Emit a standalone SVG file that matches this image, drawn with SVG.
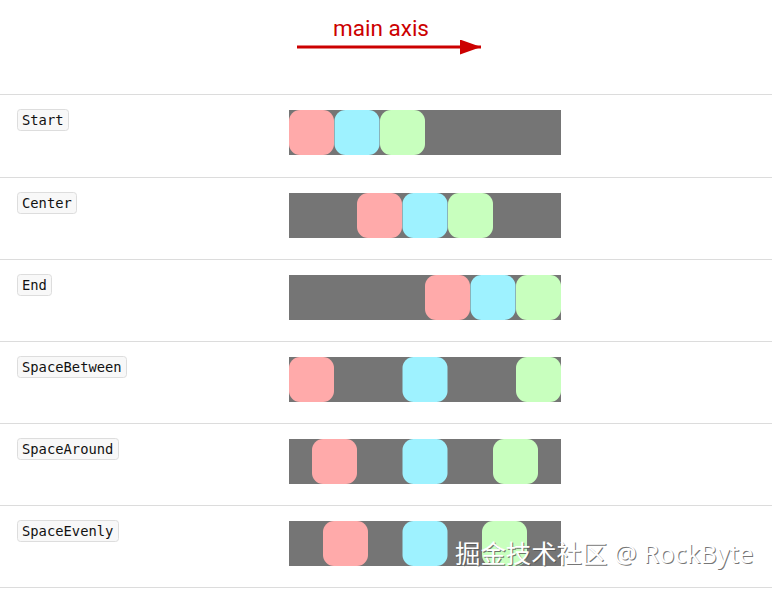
<svg xmlns="http://www.w3.org/2000/svg" width="772" height="589" viewBox="0 0 772 589">
<defs>
<style>
.sep{stroke:#dcdcdc;stroke-width:1}
.bar{fill:#757575}
.a{fill:#ffaaaa}
.b{fill:#9ef2ff}
.c{fill:#c8ffbe}
.lb{fill:#f8f8f8;stroke:#dddddd;stroke-width:1}
.lt{font-family:"DejaVu Sans Mono","Liberation Mono",monospace;font-size:13.8px;fill:#111}
.wm{font-family:"Noto Sans","Noto Sans CJK SC",sans-serif;font-size:25.4px;fill:#ffffff}
.wms{font-family:"Noto Sans","Noto Sans CJK SC",sans-serif;font-size:25.4px;fill:#555555;opacity:0.8}
</style>
<marker id="ah" markerWidth="21" markerHeight="15" refX="21" refY="7.5" orient="auto" markerUnits="userSpaceOnUse">
<path d="M0,0 L21,7.5 L0,15 z" fill="#cc0000"/>
</marker>
<rect id="sq" width="45" height="45" rx="11"/>
</defs>
<rect width="772" height="589" fill="#ffffff"/>
<g id="axis">
<text x="381" y="36" text-anchor="middle" font-family="Roboto,'Noto Sans',sans-serif" font-size="22.5" fill="#cc0000">main axis</text>
</g>
<g id="connectors">
<line x1="297" y1="47" x2="481" y2="47" stroke="#cc0000" stroke-width="3" marker-end="url(#ah)"/>
</g>
<g id="separators">
<line class="sep" x1="0" y1="94.5" x2="772" y2="94.5"/>
<line class="sep" x1="0" y1="177.5" x2="772" y2="177.5"/>
<line class="sep" x1="0" y1="259.5" x2="772" y2="259.5"/>
<line class="sep" x1="0" y1="341.5" x2="772" y2="341.5"/>
<line class="sep" x1="0" y1="423.5" x2="772" y2="423.5"/>
<line class="sep" x1="0" y1="505.5" x2="772" y2="505.5"/>
<line class="sep" x1="0" y1="587.5" x2="772" y2="587.5"/>
</g>
<g id="row-start">
<rect class="lb" x="17.5" y="109.5" width="51" height="21" rx="3"/>
<text class="lt" x="22" y="125">Start</text>
<rect class="bar" x="289" y="110" width="272" height="45"/>
<use href="#sq" class="a" x="289" y="110"/>
<use href="#sq" class="b" x="334.5" y="110"/>
<use href="#sq" class="c" x="380" y="110"/>
</g>
<g id="row-center">
<rect class="lb" x="17.5" y="192.5" width="59" height="21" rx="3"/>
<text class="lt" x="22" y="208">Center</text>
<rect class="bar" x="289" y="193" width="272" height="45"/>
<use href="#sq" class="a" x="357" y="193"/>
<use href="#sq" class="b" x="402.5" y="193"/>
<use href="#sq" class="c" x="448" y="193"/>
</g>
<g id="row-end">
<rect class="lb" x="17.5" y="274.5" width="34" height="21" rx="3"/>
<text class="lt" x="22" y="290">End</text>
<rect class="bar" x="289" y="275" width="272" height="45"/>
<use href="#sq" class="a" x="425" y="275"/>
<use href="#sq" class="b" x="470.5" y="275"/>
<use href="#sq" class="c" x="516" y="275"/>
</g>
<g id="row-spacebetween">
<rect class="lb" x="17.5" y="356.5" width="109" height="21" rx="3"/>
<text class="lt" x="22" y="372">SpaceBetween</text>
<rect class="bar" x="289" y="357" width="272" height="45"/>
<use href="#sq" class="a" x="289" y="357"/>
<use href="#sq" class="b" x="402.5" y="357"/>
<use href="#sq" class="c" x="516" y="357"/>
</g>
<g id="row-spacearound">
<rect class="lb" x="17.5" y="438.5" width="101" height="21" rx="3"/>
<text class="lt" x="22" y="454">SpaceAround</text>
<rect class="bar" x="289" y="439" width="272" height="45"/>
<use href="#sq" class="a" x="312" y="439"/>
<use href="#sq" class="b" x="402.5" y="439"/>
<use href="#sq" class="c" x="493" y="439"/>
</g>
<g id="row-spaceevenly">
<rect class="lb" x="17.5" y="520.5" width="101" height="21" rx="3"/>
<text class="lt" x="22" y="536">SpaceEvenly</text>
<rect class="bar" x="289" y="521" width="272" height="45"/>
<use href="#sq" class="a" x="323" y="521"/>
<use href="#sq" class="b" x="402.5" y="521"/>
<use href="#sq" class="c" x="482" y="521"/>
</g>
<g id="watermark">
<text class="wms" x="456" y="564">掘金技术社区 @ RockByte</text>
<text class="wm" x="455" y="563">掘金技术社区 @ RockByte</text>
</g>
</svg>
